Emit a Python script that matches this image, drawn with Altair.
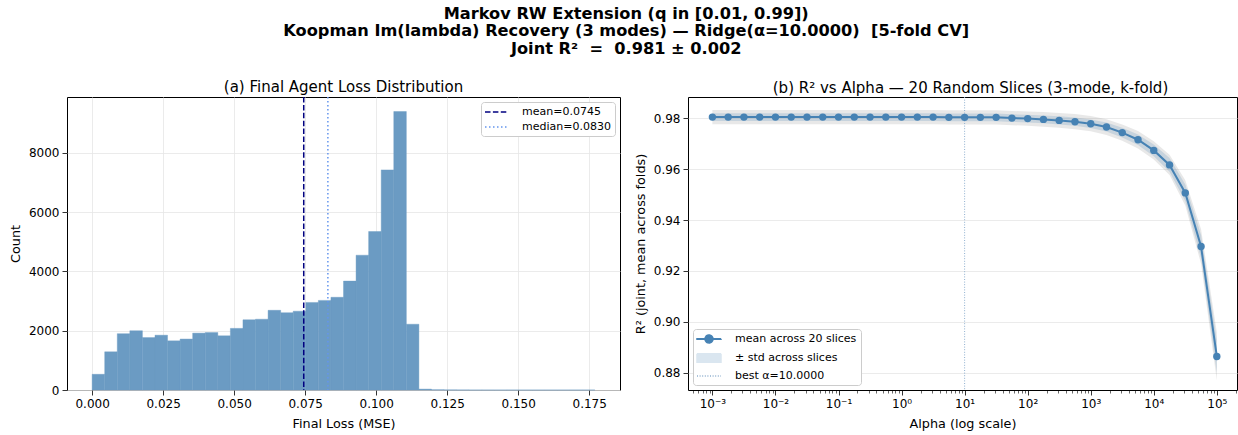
import altair as alt
import pandas as pd

FONT = "DejaVu Sans"
STEEL = "#4682b4"
HIST_FILL = "#6b9bc3"      # steelblue at 80% over white
NBSP = "\u00a0"

# ---------------- panel (a): distribution of final agent losses ----------------
loss_range = [0.0, 0.177]          # histogram range (40 equal bins)
bin_counts = [530, 1290, 1900, 2000, 1770, 1850, 1660, 1720, 1920, 1940,
              1830, 2080, 2370, 2390, 2690, 2610, 2660, 2955, 3025, 3130,
              3675, 4550, 5350, 7430, 9400, 2220, 30, 9, 4, 2,
              1, 1, 0, 1, 0, 0, 0, 0, 1, 1]
loss_mean = 0.0745
loss_median = 0.0830
loss_ticks = [0.0, 0.025, 0.05, 0.075, 0.1, 0.125, 0.15, 0.175]
count_ticks = [0, 2000, 4000, 6000, 8000]

# ---------------- panel (b): R² vs ridge alpha ----------------
alpha_exponents = [-3.0, -2.75, -2.5, -2.25, -2.0, -1.75, -1.5, -1.25, -1.0,
                   -0.75, -0.5, -0.25, 0.0, 0.25, 0.5, 0.75, 1.0, 1.25, 1.5,
                   1.75, 2.0, 2.25, 2.5, 2.75, 3.0, 3.25, 3.5, 3.75, 4.0,
                   4.25, 4.5, 4.75, 5.0]
r2_mean = [0.9805, 0.9805, 0.9805, 0.9805, 0.9805, 0.9805, 0.9805, 0.9805, 0.9805,
           0.9805, 0.9805, 0.9805, 0.9805, 0.9805, 0.9805, 0.9804, 0.9804, 0.9804, 0.9804,
           0.9801, 0.9799, 0.9796, 0.9792, 0.9787, 0.9779, 0.9766, 0.9744, 0.9716, 0.9674,
           0.9617, 0.9507, 0.9296, 0.8864]
r2_std = [0.0015, 0.0015, 0.0015, 0.0015, 0.0015, 0.0015, 0.0015, 0.0015, 0.0015,
          0.0015, 0.0015, 0.0015, 0.0015, 0.0015, 0.0015, 0.0015, 0.0015, 0.0015, 0.0015,
          0.0015, 0.0015, 0.0015, 0.0016, 0.0016, 0.0017, 0.0018, 0.0019, 0.0021, 0.0023,
          0.0027, 0.0033, 0.0045, 0.0065]
# half-range of the 20 individual slice curves around the mean
slice_spread = [0.0028, 0.0028, 0.0028, 0.0028, 0.0028, 0.0028, 0.0028, 0.0028, 0.0028,
                0.0028, 0.0028, 0.0028, 0.0028, 0.0028, 0.0028, 0.0028, 0.0028, 0.0028, 0.0028,
                0.0028, 0.0028, 0.0029, 0.0029, 0.0030, 0.0030, 0.0031, 0.0032, 0.0034, 0.0036,
                0.0040, 0.0050, 0.0068, 0.0095]
best_alpha = 10.0
alpha_ticks = [1e-3, 1e-2, 1e-1, 1e0, 1e1, 1e2, 1e3, 1e4, 1e5]
alpha_minor = [m * 10.0 ** k for k in range(-4, 6) for m in range(2, 10)]
r2_ticks = [0.88, 0.90, 0.92, 0.94, 0.96, 0.98]

# ---------------- panel (a) chart ----------------
n_bins = len(bin_counts)
bw = (loss_range[1] - loss_range[0]) / n_bins
hist_df = pd.DataFrame({
    "lo": [loss_range[0] + i * bw for i in range(n_bins)],
    "hi": [loss_range[0] + (i + 1) * bw for i in range(n_bins)],
    "count": bin_counts,
})
xa = alt.Scale(domain=[-0.00885, 0.18585], nice=False, zero=False)
ya = alt.Scale(domain=[0, 9890], nice=False)

bars = alt.Chart(hist_df).mark_rect(color=HIST_FILL, stroke=HIST_FILL, strokeWidth=0.4).encode(
    x=alt.X("lo:Q", scale=xa,
            axis=alt.Axis(values=loss_ticks, format=".3f", title="Final Loss (MSE)")),
    x2="hi:Q",
    y=alt.Y("count:Q", scale=ya,
            axis=alt.Axis(values=count_ticks, format="d", title="Count")),
    y2=alt.datum(0),
)

ref_labels = [f"mean={loss_mean:.4f}", f"median={loss_median:.4f}"]
ref_df = pd.DataFrame({"x": [loss_mean, loss_median], "label": ref_labels})
ref_legend = alt.Legend(
    title=None, orient="top-right", offset=5, symbolType="M-2.2,0L2.2,0",
    symbolSize=100, symbolStrokeWidth=1.5, symbolOffset=5, labelOffset=20,
    padding=4, rowPadding=4, labelFontSize=11, labelFont=FONT, labelColor="#000",
    fillColor="white", strokeColor="#cccccc", cornerRadius=3,
)
ref_rules = alt.Chart(ref_df).mark_rule(strokeWidth=1.5).encode(
    x=alt.X("x:Q", scale=xa),
    color=alt.Color("label:N", scale=alt.Scale(domain=ref_labels, range=["#000080", "#6495ED"]),
                    legend=ref_legend),
    strokeDash=alt.StrokeDash("label:N",
                              scale=alt.Scale(domain=ref_labels, range=[[5.5, 2.4], [1.5, 2.5]]),
                              legend=ref_legend),
)

left = alt.layer(bars, ref_rules).properties(
    width=553, height=293,
    title=alt.TitleParams("(a) Final Agent Loss Distribution", fontSize=15,
                          fontWeight="normal", font=FONT, color="#000", offset=1),
)

# ---------------- panel (b) chart ----------------
alphas = [10.0 ** e for e in alpha_exponents]
leg_labels = ["mean across 20 slices", "± std across slices", f"best α={best_alpha:.4f}"]
curve_df = pd.DataFrame({
    "alpha": alphas,
    "mean": r2_mean,
    "lo": [m - s for m, s in zip(r2_mean, r2_std)],
    "hi": [m + s for m, s in zip(r2_mean, r2_std)],
    "smin": [m - s for m, s in zip(r2_mean, slice_spread)],
    "smax": [m + s for m, s in zip(r2_mean, slice_spread)],
    "series": leg_labels[0],
})
xb = alt.Scale(type="log", domain=[10 ** -3.387, 10 ** 5.32], nice=False)
yb = alt.Scale(domain=[0.8732, 0.9884], nice=False, zero=False)

sup_labels = "['10⁻³','10⁻²','10⁻¹','10⁰','10¹','10²','10³','10⁴','10⁵']"
major_axis = alt.Axis(values=alpha_ticks, title="Alpha (log scale)", orient="bottom",
                      labelExpr=f"{sup_labels}[round(log(datum.value)/LN10)+3]")
minor_axis = alt.Axis(values=alpha_minor, labels=False, grid=False, title=None,
                      orient="bottom", tickSize=3, tickWidth=0.6)
r2_axis = alt.Axis(values=r2_ticks, format=".2f", title="R² (joint, mean across folds)")

spread = alt.Chart(curve_df).mark_area(color="#808080", opacity=0.18).encode(
    x=alt.X("alpha:Q", scale=xb, axis=None),
    y=alt.Y("smin:Q", scale=yb, axis=r2_axis),
    y2="smax:Q",
)
band = alt.Chart(curve_df).mark_area(color=STEEL, opacity=0.2).encode(
    x=alt.X("alpha:Q", scale=xb, axis=None),
    y=alt.Y("lo:Q", scale=yb, axis=r2_axis),
    y2="hi:Q",
)
best_df = pd.DataFrame({"alpha": [best_alpha]})
best_rule = alt.Chart(best_df).mark_rule(color="#8fb0cf", strokeWidth=1, strokeDash=[1, 1.6]).encode(
    x=alt.X("alpha:Q", scale=xb, axis=minor_axis),
)

# legend glyphs: line with marker, filled band patch, dotted line
idx = "indexof(['" + "','".join(leg_labels) + "'], datum.value)"
circle_path = ("M-2.4,-0.06L2.4,-0.06L2.4,0.06L-2.4,0.06Z"
               "M0.8,0A0.8,0.8,0,1,1,-0.8,0A0.8,0.8,0,1,1,0.8,0Z")
rect_path = "M-2.4,-0.85L2.4,-0.85L2.4,0.85L-2.4,0.85Z"
dot_path = "M-2.4,0L2.4,0"
curve_legend = alt.Legend(
    title=None, orient="bottom-left", offset=5, symbolSize=100, symbolOffset=6,
    symbolStrokeWidth=1.5, labelOffset=20, padding=4, rowPadding=4,
    labelFontSize=11, labelFont=FONT, labelColor="#000", labelLimit=300,
    fillColor="white", strokeColor="#cccccc", cornerRadius=3,
    symbolType=alt.ExprRef(expr=f"['{circle_path}','{rect_path}','{dot_path}'][{idx}]"),
    symbolFillColor=alt.ExprRef(expr=f"['{STEEL}','#dae6f0','transparent'][{idx}]"),
    symbolStrokeColor=alt.ExprRef(expr=f"['{STEEL}','#cddcea','#8fb0cf'][{idx}]"),
    symbolDash=alt.ExprRef(expr=f"[[1,0],[1,0],[1,1.6]][{idx}]"),
    symbolOpacity=1,
)
mean_line = alt.Chart(curve_df).mark_line(
    strokeWidth=2, point=alt.OverlayMarkDef(filled=True, size=55, opacity=1)
).encode(
    x=alt.X("alpha:Q", scale=xb, axis=major_axis),
    y=alt.Y("mean:Q", scale=yb, axis=r2_axis),
    color=alt.Color("series:N", scale=alt.Scale(domain=leg_labels, range=[STEEL, "#dae6f0", "#8fb0cf"]),
                    legend=curve_legend),
)

right = alt.layer(spread, band, best_rule, mean_line).resolve_axis(x="independent").properties(
    width=549, height=293,
    title=alt.TitleParams("(b) R² vs Alpha — 20 Random Slices (3-mode, k-fold)", fontSize=15,
                          fontWeight="normal", font=FONT, color="#000", offset=1, dx=8),
)

chart = alt.hconcat(left, right, spacing=12).resolve_scale(
    color="independent", strokeDash="independent"
).resolve_legend(
    color="independent", strokeDash="independent"
).properties(
    title=alt.TitleParams(
        ["Markov RW Extension (q in [0.01, 0.99])",
         f"Koopman Im(lambda) Recovery (3 modes) — Ridge(α=10.0000) {NBSP}[5-fold CV]",
         f"Joint R² {NBSP}= {NBSP}0.981 ± 0.002"],
        fontSize=16.2, fontWeight="bold", font=FONT, color="#000", anchor="middle",
        lineHeight=17.5, offset=23, dx=3),
    padding={"left": 8, "top": 5, "right": 0, "bottom": 0},
).configure_view(
    stroke="#000", strokeWidth=1,
).configure_axis(
    domain=False, grid=True, gridColor="#e6e6e6", gridWidth=0.8,
    tickColor="#000", tickSize=5, tickWidth=0.8,
    labelFont=FONT, labelFontSize=12, labelColor="#000", labelPadding=3,
    titleFont=FONT, titleFontSize=12.8, titleFontWeight="normal", titleColor="#000",
    titlePadding=6,
).configure_axisX(
    titlePadding=8,
).configure_legend(
    labelFont=FONT, labelFontSize=11, labelColor="#000", labelLimit=300,
)

chart.save("out.html", embed_options={"renderer": "svg", "actions": False})
